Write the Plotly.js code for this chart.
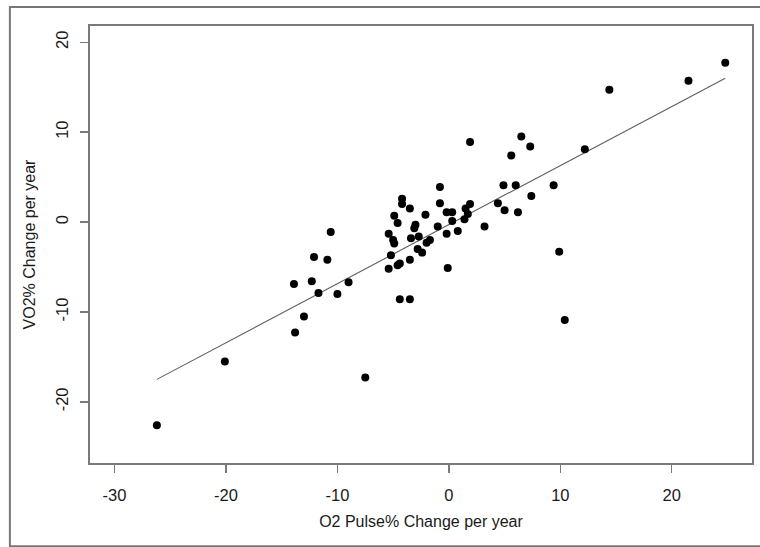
<!DOCTYPE html>
<html>
<head>
<meta charset="utf-8">
<script src="https://cdn.plot.ly/plotly-3.0.1.min.js"></script>
<style>
  html, body { margin: 0; padding: 0; background: #ffffff; }
  #chart { width: 760px; height: 547px; }
</style>
</head>
<body>
<div id="chart"></div>
<script>
// O2 Pulse % change per year (x) vs VO2 % change per year (y)
var o2PulseChange = [
  24.8, 21.5, 14.4, 12.2, 9.4, 9.9, 10.4,
  6.5, 7.3, 7.4,
  1.9, 5.6, 4.9, 6.0, -0.8, 4.4, 5.0, 6.2, 3.2,
  -4.2, -4.2, -3.5, -4.9, -4.6, -2.1, -0.8, -0.2, 0.3, 1.5, 1.9, 1.7, 1.4, 0.3,
  -1.0, 0.8, -0.2, -3.0, -3.1, -5.4, -5.0, -4.9, -3.4, -2.7, -1.7, -2.0, -2.8, -2.4,
  -5.2, -3.5, -4.4, -4.6, -5.4, -0.1, -4.4, -3.5,
  -10.6, -12.1, -10.9, -13.9, -12.3, -9.0, -11.7, -10.0, -13.0, -13.8,
  -20.1, -7.5, -26.2
];
var vo2Change = [
  17.7, 15.7, 14.7, 8.1, 4.1, -3.3, -10.9,
  9.5, 8.4, 2.9,
  8.9, 7.4, 4.1, 4.1, 3.9, 2.1, 1.3, 1.1, -0.5,
  2.6, 2.0, 1.5, 0.7, -0.1, 0.8, 2.1, 1.1, 1.1, 1.5, 2.0, 0.9, 0.3, 0.1,
  -0.5, -1.0, -1.3, -0.3, -0.7, -1.3, -2.0, -2.4, -1.8, -1.6, -2.0, -2.3, -3.0, -3.4,
  -3.7, -4.2, -4.6, -4.8, -5.2, -5.1, -8.6, -8.6,
  -1.1, -3.9, -4.2, -6.9, -6.6, -6.7, -7.9, -8.0, -10.5, -12.3,
  -15.5, -17.3, -22.6
];
// fitted regression line (end points)
var fitX = [-26.2, 24.8];
var fitY = [-17.5, 16.0];

var xTicks = [-30, -20, -10, 0, 10, 20];
var yTicks = [-20, -10, 0, 10, 20];

var fontFam = "'Liberation Sans', Arial, Helvetica, sans-serif";
var textColor = '#1a1a1a';

var traces = [
  {
    x: fitX, y: fitY, type: 'scatter', mode: 'lines',
    line: { color: '#5e5e5e', width: 1.1 },
    hoverinfo: 'skip', showlegend: false
  },
  {
    x: o2PulseChange, y: vo2Change, type: 'scatter', mode: 'markers',
    marker: { color: '#000000', size: 8 },
    showlegend: false
  }
];

var axisCommon = {
  showgrid: false, zeroline: false,
  showline: true, mirror: true, linecolor: '#7a7a7a', linewidth: 1.8,
  ticks: 'outside', ticklen: 8, tickwidth: 1.3, tickcolor: '#7a7a7a',
  tickmode: 'array',
  tickfont: { family: fontFam, size: 16.5, color: textColor }
};

var layout = {
  width: 760, height: 547,
  margin: { l: 90, r: 8, t: 26, b: 84 },
  paper_bgcolor: '#ffffff', plot_bgcolor: '#ffffff',
  font: { family: fontFam, color: textColor },
  xaxis: Object.assign({}, axisCommon, {
    range: [-32.2, 27.2], tickvals: xTicks, ticktext: xTicks.map(String),
    ticklabelstandoff: 8,
    title: { text: 'O2 Pulse% Change per year', font: { family: fontFam, size: 16, color: textColor }, standoff: 13 }
  }),
  yaxis: Object.assign({}, axisCommon, {
    range: [-26.8, 21.8], tickvals: yTicks, ticktext: yTicks.map(String),
    tickangle: -90, ticklabelstandoff: 6,
    title: { text: 'VO2% Change per year', font: { family: fontFam, size: 16, color: textColor }, standoff: 13 }
  }),
  shapes: [
    { type: 'rect', xref: 'paper', yref: 'paper',
      x0: -0.121, x1: 1.03, y0: -0.1904, y1: 1.0436,
      line: { color: '#777777', width: 2 }, fillcolor: 'rgba(0,0,0,0)' }
  ]
};

Plotly.newPlot('chart', traces, layout, { displayModeBar: false, staticPlot: true });
</script>
</body>
</html>
